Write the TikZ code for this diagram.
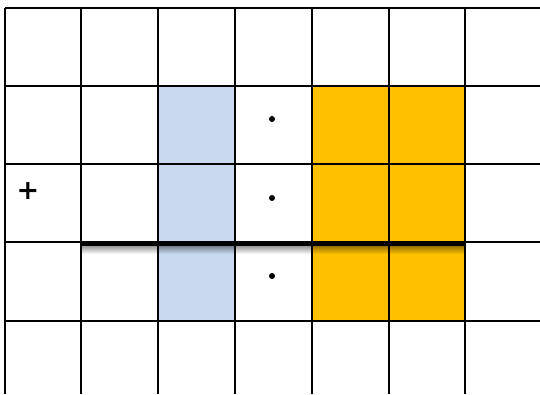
\documentclass[tikz,border=0pt]{standalone}
\usepackage{fontspec}
\newfontfamily\plusfont{DejaVu Sans}
\usetikzlibrary{fadings}
\definecolor{lblue}{HTML}{C9DAF0}
\definecolor{gold}{HTML}{FFC000}
\tikzset{
  gridline/.style={line width=1.4pt, black},
  heavyline/.style={line width=5pt, black},
  dotmark/.style={circle, fill=black, inner sep=0pt, minimum size=6pt},
}
\begin{document}
\begin{tikzpicture}[x=1pt,y=-1pt]
\useasboundingbox (0,0) rectangle (540,394);
\fill[white] (0,0) rectangle (540,394);
% fills
\fill[lblue] (158,86) rectangle (235,321);
\fill[gold] (312,86) rectangle (465,321);
% grid
\foreach \y in {8,86,164,242,321} \draw[gridline] (5,\y) -- (540,\y);
\foreach \x in {5,81,158,235,312,389,465} \draw[gridline] (\x,8) -- (\x,394);
% shadow and heavy line
\fill[black, opacity=0.45, path fading=south] (82,245) rectangle (466,254);
\coordinate (la) at (81,243.5);
\coordinate (lb) at (465,243.5);
\draw[heavyline] (la) -- (lb);
% marks
\node[dotmark] (d1) at (272,119) {};
\node[dotmark] (d2) at (272,198) {};
\node[dotmark] (d3) at (272,276) {};
\node[inner sep=0pt, font=\plusfont\bfseries\fontsize{27}{27}\selectfont] (plus) at (28,191) {+};
\end{tikzpicture}
\end{document}
